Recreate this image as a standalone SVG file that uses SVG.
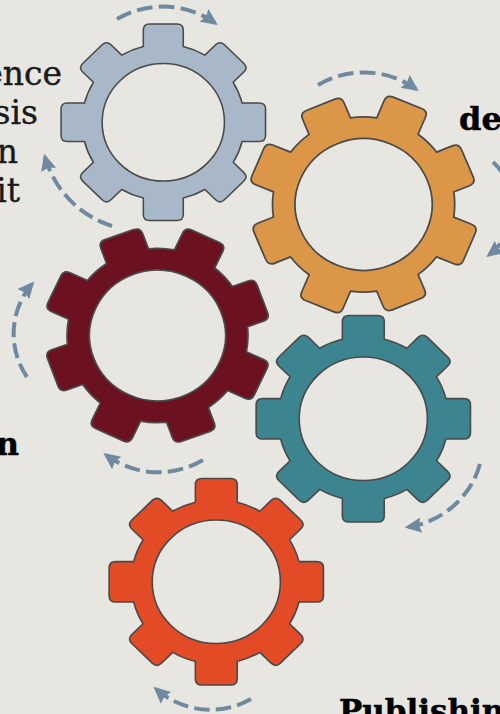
<svg xmlns="http://www.w3.org/2000/svg" width="500" height="714" viewBox="0 0 500 714">
<style>
.g{stroke:#4a4a4a;stroke-width:1.5;fill-rule:evenodd;stroke-linejoin:round}
.a{fill:none;stroke:#6f8aa0;stroke-width:4;stroke-dasharray:15 6;marker-end:url(#h)}
.t{font-family:"DejaVu Serif","Liberation Serif",serif;fill:#1a1a1a;font-size:33px;stroke:#1a1a1a;stroke-width:.4}
.b{font-family:"DejaVu Serif","Liberation Serif",serif;fill:#000;font-weight:700;font-size:32px;stroke:#000;stroke-width:.5}
</style>
<defs>
<marker id="h" markerUnits="userSpaceOnUse" markerWidth="20" markerHeight="20" refX="12" refY="8" orient="auto" viewBox="0 0 18 16">
<path d="M0 1L15 8L0 15L2 8Z" fill="#6f8aa0"/>
</marker>
<path id="gear" d="M-19.2-75.8V-92.3Q-19.2-98.3-13.2-98.3H13.2Q19.2-98.3 19.2-92.3V-75.8A78.2 78.2 0 0 1 40-67.2L50.3-77.5Q54.5-81.7 58.8-77.5L77.5-58.8Q81.7-54.5 77.5-50.3L67.2-40A78.2 78.2 0 0 1 75.8-19.2H92.3Q98.3-19.2 98.3-13.2V13.2Q98.3 19.2 92.3 19.2H75.8A78.2 78.2 0 0 1 67.2 40L77.5 50.3Q81.7 54.5 77.5 58.8L58.8 77.5Q54.5 81.7 50.3 77.5L40 67.2A78.2 78.2 0 0 1 19.2 75.8V92.3Q19.2 98.3 13.2 98.3H-13.2Q-19.2 98.3-19.2 92.3V75.8A78.2 78.2 0 0 1-40 67.2L-50.3 77.5Q-54.5 81.7-58.8 77.5L-77.5 58.8Q-81.7 54.5-77.5 50.3L-67.2 40A78.2 78.2 0 0 1-75.8 19.2H-92.3Q-98.3 19.2-98.3 13.2V-13.2Q-98.3-19.2-92.3-19.2H-75.8A78.2 78.2 0 0 1-67.2-40L-77.5-50.3Q-81.7-54.5-77.5-58.8L-58.8-77.5Q-54.5-81.7-50.3-77.5L-40-67.2A78.2 78.2 0 0 1-19.2-75.8ZM-58.8 0A58.8 58.8 0 0 0 58.8 0A58.8 58.8 0 0 0-58.8 0Z"/>
</defs>
<rect width="500" height="714" fill="#e7e6e1"/>
<g id="connectors">
<path class="a" pathLength="99" d="M117 19A91 91 0 0 1 215 23"/>
<path class="a" pathLength="99" d="M112 226A101 101 0 0 1 45 157"/>
<path class="a" pathLength="99" d="M318 85A90 90 0 0 1 416 89"/>
<path class="a" pathLength="99" d="M493 162A61 61 0 0 1 489 255"/>
<path class="a" pathLength="99" d="M27 377A76.5 76.5 0 0 1 32 284"/>
<path class="a" pathLength="99" d="M203 460A87.6 87.6 0 0 1 106 455"/>
<path class="a" pathLength="99" d="M480 464A87.7 87.7 0 0 1 408 527"/>
<path class="a" pathLength="99" d="M251 699A82 82 0 0 1 156 689"/>
</g>
<g id="gear-blue"><use href="#gear" class="g" fill="#a8b8c8" transform="translate(163.3 122.3) scale(1.04 1)"/></g>
<g id="gear-orange"><use href="#gear" class="g" fill="#dc9647" transform="translate(363.6 204.5) scale(1.165 1.12) rotate(22.5)"/></g>
<g id="gear-maroon"><use href="#gear" class="g" fill="#6c111f" transform="translate(157.5 335.5) scale(1.157 1.114) rotate(25)"/></g>
<g id="gear-teal"><use href="#gear" class="g" fill="#3c8590" transform="translate(363.3 418.8) scale(1.09 1.05)"/></g>
<g id="gear-red"><use href="#gear" class="g" fill="#e34a26" transform="translate(216.3 581.8) scale(1.09 1.05)"/></g>
<g id="labels">
<text class="t" x="62" y="85" text-anchor="end">ence</text>
<text class="t" x="38" y="124" text-anchor="end">sis</text>
<text class="t" x="18" y="163" text-anchor="end">n</text>
<text class="t" x="20" y="202" text-anchor="end">it</text>
<text class="b" x="459" y="130">de</text>
<text class="b" x="19" y="455" text-anchor="end">n</text>
<text class="b" x="339" y="722" style="font-size:31px">Publishin</text>
</g>
</svg>
